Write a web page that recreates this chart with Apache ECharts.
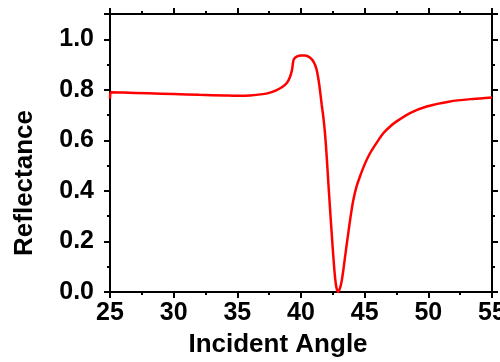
<!DOCTYPE html>
<html>
<head>
<meta charset="utf-8">
<script src="https://cdn.jsdelivr.net/npm/echarts@6/dist/echarts.min.js"></script>
<style>
  html, body { margin: 0; padding: 0; background: #fff; }
  #chart { width: 500px; height: 362px; }
</style>
</head>
<body>
<div id="chart"></div>
<script>
// incident angle (deg) and reflectance
const angles = [25.0, 25.08, 26, 28, 30, 32, 34, 35, 36, 37, 37.5, 38, 38.5, 38.9, 39.15, 39.3, 39.38, 39.45,
  39.7, 40.0, 40.3, 40.7, 41.0, 41.2, 41.36, 41.5, 41.63, 41.76, 41.89, 42.02, 42.15, 42.28, 42.41, 42.54, 42.66,
  42.78, 42.93, 43.08, 43.2, 43.32, 43.45, 43.58, 43.71, 43.9, 44.11, 44.35, 44.63, 45, 45.42, 46, 46.46, 47,
  47.51, 48.56, 49.87, 51.7, 53.5, 55];
const reflectance = [0.765, 0.790, 0.789, 0.786, 0.783, 0.780, 0.778, 0.777, 0.778, 0.783, 0.788, 0.797, 0.810,
  0.828, 0.853, 0.880, 0.910, 0.922, 0.932, 0.936, 0.936, 0.928, 0.910, 0.885, 0.845, 0.795, 0.740, 0.690,
  0.625, 0.535, 0.430, 0.330, 0.232, 0.140, 0.065, 0.018, 0.0, 0.018, 0.045, 0.085, 0.135, 0.185, 0.232, 0.300,
  0.364, 0.415, 0.457, 0.505, 0.549, 0.595, 0.628, 0.655, 0.675, 0.708, 0.734, 0.754, 0.764, 0.770];

const xTicks = { min: 25, max: 55, step: 5 };
const yTicks = { min: 0, max: 1.1, step: 0.2 };

const chart = echarts.init(document.getElementById('chart'));

const font = 'Liberation Sans, Arial, sans-serif';
const lineStyle = { color: '#000', width: 2 };

const baseAxis = {
    axisLine: { show: true, onZero: false, lineStyle: lineStyle },
    axisTick: { show: true, inside: false, length: 6, lineStyle: lineStyle },
    minorTick: { show: true, splitNumber: 2, length: 3, lineStyle: lineStyle },
    splitLine: { show: false },
    minorSplitLine: { show: false }
};

const option = {
    animation: false,
    backgroundColor: '#fff',
    grid: { left: 110, right: 8, top: 14, bottom: 70, containLabel: false, outerBoundsMode: 'none' },
    xAxis: [
        Object.assign({}, baseAxis, {
            type: 'value',
            position: 'bottom',
            min: xTicks.min, max: xTicks.max, interval: xTicks.step,
            name: 'Incident Angle',
            nameLocation: 'middle',
            nameGap: 40,
            nameMoveOverlap: false,
            nameTextStyle: { fontSize: 26, fontWeight: 'bold', fontFamily: font, color: '#000', padding: [0, 46, 0, 0] },
            axisLabel: { margin: 9, fontSize: 25, fontWeight: 'bold', fontFamily: font, color: '#000' }
        }),
        Object.assign({}, baseAxis, {
            type: 'value',
            position: 'top',
            min: xTicks.min, max: xTicks.max, interval: xTicks.step,
            axisLabel: { show: false }
        })
    ],
    yAxis: [
        Object.assign({}, baseAxis, {
            type: 'value',
            position: 'left',
            min: yTicks.min, max: yTicks.max, interval: yTicks.step,
            name: 'Reflectance',
            nameLocation: 'middle',
            nameGap: 72,
            nameMoveOverlap: false,
            nameTextStyle: { fontSize: 26, fontWeight: 'bold', fontFamily: font, color: '#000', padding: [0, 60, 0, 0] },
            axisLabel: {
                margin: 16, fontSize: 25, fontWeight: 'bold', fontFamily: font, color: '#000',
                formatter: v => v > 1.05 ? '' : v.toFixed(1)
            }
        }),
        Object.assign({}, baseAxis, {
            type: 'value',
            position: 'right',
            min: yTicks.min, max: yTicks.max, interval: yTicks.step,
            axisLabel: { show: false }
        })
    ],
    series: [{
        type: 'line',
        xAxisIndex: 0,
        yAxisIndex: 0,
        data: angles.map((a, i) => [a, reflectance[i]]),
        smooth: 0.25,
        showSymbol: false,
        symbol: 'none',
        lineStyle: { color: '#ff0000', width: 2.5 },
        clip: true
    }]
};

chart.setOption(option);
</script>
</body>
</html>
